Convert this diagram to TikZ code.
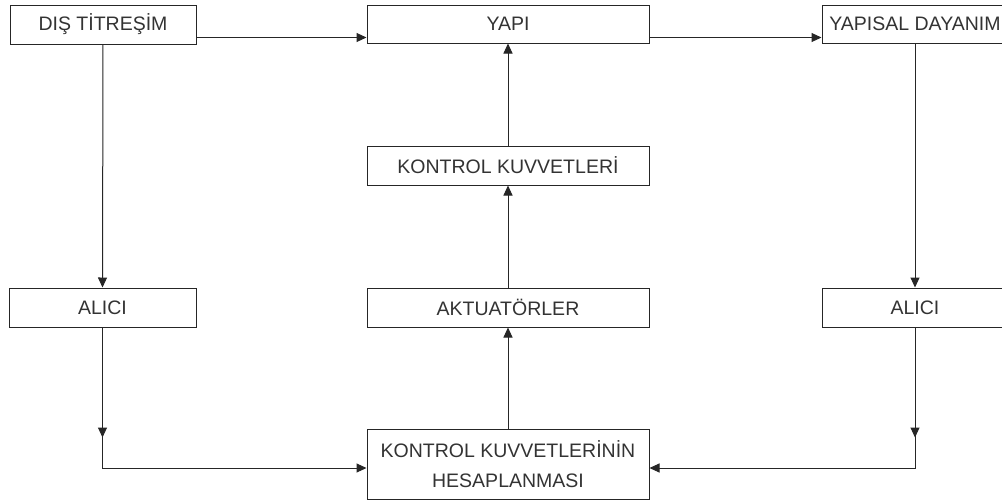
\documentclass[tikz,border=0pt]{standalone}
\usepackage{fontspec}
\setmainfont{Liberation Sans}
\usetikzlibrary{arrows.meta,decorations.markings}
\begin{document}
\begin{tikzpicture}[x=1pt,y=-1pt,
  blk/.style={draw=black!85,line width=1pt,rectangle,inner sep=0pt,
    minimum height=39pt,font=\fontsize{19.5}{30}\selectfont,text=black!80,align=center},
  conn/.style={draw=black!85,line width=1pt,-{Triangle[length=10pt,width=9pt]}},
  midarrow/.style={postaction={decorate},decoration={markings,
    mark=at position #1 with {\arrow{Triangle[length=10pt,width=9pt]}}}}]
  \fill[white] (0,0) rectangle (1002,501);
  \useasboundingbox (0,0) rectangle (1002,501);
  \clip (0,0) rectangle (1002,501);

  % top row
  \node[blk,minimum width=186pt] (dis)  at (103,24.5) {DIŞ TİTREŞİM};
  \node[blk,minimum width=282pt,minimum height=38pt] (yapi) at (508,24) {YAPI};
  \node[blk,minimum width=186pt,minimum height=38pt] (yd)   at (915,24) {YAPISAL DAYANIM};

  % middle column
  \node[blk,minimum width=282pt] (kk)  at (508,165.5) {KONTROL KUVVETLERİ};
  \node[blk,minimum width=282pt] (akt) at (508,307.5) {AKTUATÖRLER};
  \node[blk,minimum width=282pt,minimum height=70pt] (kkn) at (508,464)
    {KONTROL KUVVETLERİNİN\\HESAPLANMASI};

  % sensors
  \node[blk,minimum width=187pt] (aliL) at (102.5,307.5) {ALICI};
  \node[blk,minimum width=186pt] (aliR) at (915,307.5) {ALICI};

  % connectors
  \draw[conn] ([yshift=7pt]dis.south east) -- ([yshift=6pt]yapi.south west);
  \draw[conn] ([yshift=6pt]yapi.south east) -- ([yshift=6pt]yd.south west);
  \draw[conn] (dis.south) -- (aliL.north);
  \draw[conn] (yd.south) -- (aliR.north);
  \draw[conn] (kk.north) -- (yapi.south);
  \draw[conn] (akt.north) -- (kk.south);
  \draw[conn] (kkn.north) -- (akt.south);
  \draw[conn,midarrow=110pt] (aliL.south) |- ([yshift=-4pt]kkn.west);
  \draw[conn,midarrow=110pt] (aliR.south) |- ([yshift=-4pt]kkn.east);
\end{tikzpicture}
\end{document}
